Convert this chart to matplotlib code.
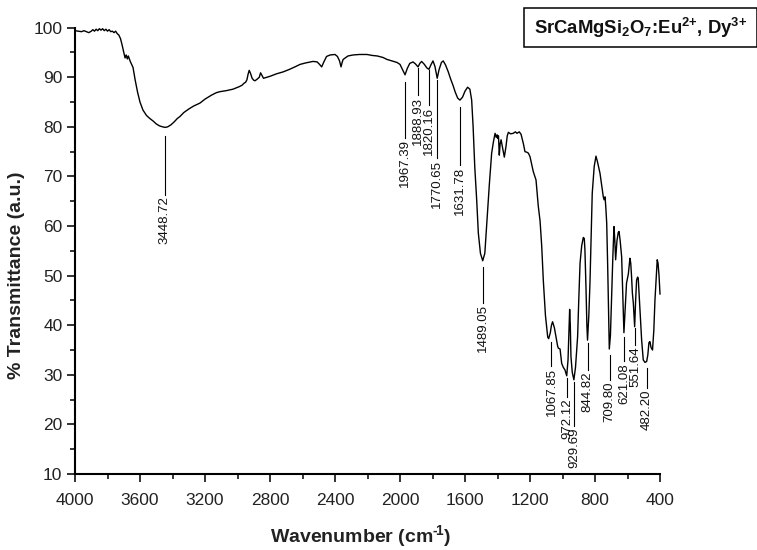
import matplotlib
matplotlib.use("Agg")
import matplotlib.pyplot as plt
from matplotlib.patches import Rectangle
from matplotlib.ticker import MultipleLocator

plt.rcParams['font.family'] = ['Liberation Sans', 'DejaVu Sans']
plt.rcParams['mathtext.fontset'] = 'custom'
plt.rcParams['mathtext.rm'] = 'Liberation Sans'
plt.rcParams['mathtext.bf'] = 'Liberation Sans:bold'

# ---- spectrum (wavenumber cm^-1, % transmittance) ----
wavenumber = [
    4000, 3980, 3960, 3945, 3930, 3915, 3900, 3890, 3880, 3870, 3860, 3850, 3840,
    3830, 3820, 3810, 3800, 3790, 3780, 3770, 3760, 3750, 3740, 3730, 3720, 3710,
    3700, 3692, 3685, 3678, 3672, 3660, 3643, 3630, 3615, 3600, 3582, 3560, 3540,
    3520, 3500, 3480, 3460, 3446, 3430, 3410, 3390, 3370, 3354, 3330, 3300, 3270,
    3231, 3200, 3160, 3130, 3108, 3070, 3028, 2990, 2972, 2960, 2950, 2942, 2935,
    2928, 2920, 2910, 2900, 2892, 2880, 2866, 2858, 2850, 2840, 2800, 2760, 2718,
    2680, 2640, 2615, 2580, 2535, 2510, 2495, 2482, 2470, 2452, 2430, 2400, 2385,
    2372, 2363, 2356, 2350, 2320, 2289, 2250, 2203, 2170, 2140, 2105, 2080, 2050,
    2019, 2000, 1985, 1969, 1955, 1940, 1920, 1905, 1889, 1878, 1867, 1850, 1835,
    1822, 1810, 1797, 1785, 1771, 1760, 1745, 1734, 1720, 1703, 1690, 1674, 1660,
    1645, 1631, 1615, 1600, 1584, 1570, 1559, 1550, 1540, 1528, 1518, 1505, 1491,
    1478, 1463, 1450, 1436, 1425, 1415, 1408, 1402, 1399, 1394, 1389, 1384, 1378,
    1370, 1358, 1348, 1340, 1333, 1320, 1303, 1290, 1280, 1266, 1255, 1240, 1231,
    1220, 1210, 1200, 1180, 1163, 1149, 1138, 1128, 1118, 1105, 1091, 1085, 1075,
    1068, 1061, 1050, 1040, 1030, 1026, 1015, 1005, 995, 985, 974, 966, 960, 956,
    952, 948, 940, 930, 920, 907, 900, 892, 882, 872, 866, 862, 855, 850, 846, 838,
    831, 824, 817, 805, 794, 785, 769, 760, 749, 744, 738, 733, 728, 722, 716, 712,
    705, 697, 690, 683, 678, 673, 665, 657, 652, 645, 636, 630, 624, 622, 615, 606,
    600, 595, 585, 580, 575, 570, 564, 556, 550, 544, 538, 534, 528, 523, 513, 503,
    492, 482, 475, 468, 462, 455, 446, 438, 431, 424, 417, 412, 406, 400,
]
transmittance = [
    99.4, 99.3, 99.2, 99.4, 99.2, 99.0, 99.3, 99.6, 99.3, 99.7, 99.4, 99.8, 99.5,
    99.8, 99.4, 99.7, 99.3, 99.6, 99.2, 99.3, 99.0, 99.3, 98.8, 98.5, 97.8, 96.5,
    95.0, 93.9, 94.5, 93.7, 94.3, 93.2, 92.0, 89.5, 87.0, 85.0, 83.4, 82.3, 81.7,
    81.2, 80.6, 80.2, 80.0, 79.9, 80.0, 80.4, 81.0, 81.7, 82.1, 82.9, 83.6, 84.2,
    84.8, 85.6, 86.4, 86.9, 87.1, 87.3, 87.6, 88.1, 88.4, 88.8, 89.0, 89.5, 90.6,
    91.4, 90.8, 89.8, 89.4, 89.3, 89.6, 90.0, 90.9, 90.4, 89.8, 90.2, 90.7, 91.1,
    91.6, 92.2, 92.6, 92.9, 93.2, 93.1, 92.6, 92.1, 93.0, 94.2, 94.5, 94.6, 94.2,
    93.3, 92.1, 93.0, 93.6, 94.3, 94.5, 94.6, 94.6, 94.4, 94.3, 94.0, 93.6, 93.3,
    93.0, 92.6, 91.6, 90.5, 91.8, 92.8, 93.1, 92.7, 92.1, 92.8, 93.2, 92.6, 91.9,
    91.6, 92.5, 93.3, 92.2, 89.8, 91.5, 93.0, 93.3, 92.5, 91.1, 89.8, 88.4, 87.0,
    85.8, 85.4, 86.0, 87.2, 88.0, 87.6, 85.4, 80.0, 72.0, 65.2, 58.6, 54.5, 53.0,
    54.5, 61.9, 68.5, 74.7, 77.0, 78.7, 77.9, 78.4, 77.7, 78.2, 74.3, 76.5, 77.4,
    76.0, 73.9, 76.0, 78.2, 78.9, 78.6, 78.7, 79.0, 78.7, 79.0, 78.5, 76.5, 75.0,
    74.9, 74.7, 74.0, 71.0, 69.3, 64.0, 61.0, 56.0, 49.0, 42.0, 37.6, 37.3, 38.5,
    40.0, 40.7, 39.5, 37.7, 35.8, 35.4, 35.2, 32.3, 31.5, 31.0, 29.8, 33.0, 39.0, 43.2,
    40.0, 33.7, 30.5, 29.0, 31.5, 37.7, 45.0, 52.5, 56.0, 57.7, 57.5, 55.2, 47.0, 40.0, 37.0, 42.0,
    48.5, 58.0, 66.6, 72.0, 74.1, 73.0, 70.6, 68.5, 65.9, 65.3, 65.9, 63.5, 60.6, 52.0, 42.0, 35.2,
    38.0, 46.5, 54.0, 59.9, 57.0, 53.2, 57.0, 58.7, 58.9, 57.0, 53.8, 47.0, 39.5, 38.5, 43.0, 48.5,
    49.5, 50.3, 53.5, 52.5, 49.8, 46.5, 44.4, 39.7, 45.0, 49.1, 49.7, 49.5, 46.0, 43.1, 37.0, 33.0,
    32.5, 32.7, 34.0, 36.5, 36.7, 35.5, 35.0, 39.0, 45.1, 49.0, 53.2, 52.5, 50.0, 46.3,
]

# ---- peak labels ----
peak_labels = ['3448.72', '1967.39', '1888.93', '1820.16', '1770.65', '1631.78',
               '1489.05', '1067.85', '972.12', '929.69', '844.82', '709.80',
               '621.08', '551.64', '482.20']
peak_positions = [3448.72, 1967.39, 1888.93, 1820.16, 1770.65, 1631.78,
                  1489.05, 1067.85, 972.12, 929.69, 844.82, 709.80,
                  621.08, 551.64, 482.20]
# leader line top / bottom (in % T)
leader_top = [78.2, 89.1, 91.9, 91.5, 89.5, 84.0, 51.8, 36.7, 29.4, 28.6,
              36.4, 34.0, 37.7, 39.5, 31.4]
leader_bottom = [66.3, 77.8, 86.4, 84.4, 73.7, 72.3, 44.5, 31.7, 25.6, 19.6,
                 31.0, 28.9, 32.7, 36.0, 27.4]

x_ticks = [4000, 3600, 3200, 2800, 2400, 2000, 1600, 1200, 800, 400]
y_ticks = [10, 20, 30, 40, 50, 60, 70, 80, 90, 100]

W, H = 757, 550
fig = plt.figure(figsize=(W / 100, H / 100), dpi=100)
ax = fig.add_axes([75 / W, 1 - 474 / H, (660 - 75) / W, (474 - 27.7) / H])

ax.plot(wavenumber, transmittance, color='black', lw=1.0, clip_on=False)

for xp, lab, yt, yb in zip(peak_positions, peak_labels, leader_top, leader_bottom):
    ax.plot([xp, xp], [yb, yt], color='black', lw=0.8)
    ax.text(xp, yb - 0.3, lab, rotation=90, ha='center', va='top',
            fontsize=9.5, color='#111111')

ax.set_xlim(4000, 400)
ax.set_ylim(10, 100)
ax.set_xticks(x_ticks)
ax.set_yticks(y_ticks)
ax.xaxis.set_minor_locator(MultipleLocator(200))
ax.yaxis.set_minor_locator(MultipleLocator(5))
for s in ['top', 'right']:
    ax.spines[s].set_visible(False)
for s in ['left', 'bottom']:
    ax.spines[s].set_linewidth(1.5)
ax.tick_params(which='major', direction='out', length=6, width=1.3,
               labelsize=12.5, colors='#222222')
ax.tick_params(which='minor', direction='out', length=3.5, width=1.1)
ax.tick_params(axis='x', which='major', pad=8)
ax.tick_params(axis='y', which='major', pad=3)

ax.set_xlabel('Wavenumber (cm$^{\\mathbf{\u2010}\\!\\mathbf{1}}$)', fontsize=14,
              fontweight='bold', color='#222222')
ax.xaxis.set_label_coords((360 - 75) / (660 - 75), (474 - 543) / (474 - 27.7),
                          transform=ax.transAxes)
ax.xaxis.label.set_va('baseline')
ax.set_ylabel('% Transmittance (a.u.)', fontsize=14, fontweight='bold',
              color='#222222')
ax.yaxis.set_label_coords(17 / W, 0.5, transform=fig.transFigure)
ax.yaxis.label.set_va('center')

# legend box
fig.patches.append(Rectangle((524 / W, 1 - 47 / H), (756.5 - 524) / W, 39 / H,
                             transform=fig.transFigure, fill=False,
                             edgecolor='black', lw=1.1))
fig.text((524 + 756.5) / 2 / W, 1 - 28 / H,
         r'SrCaMgSi$_\mathbf{2}$O$_\mathbf{7}$:Eu$^{\mathbf{2}\mathbf{+}}$, Dy$^{\mathbf{3}\mathbf{+}}$',
         ha='center', va='center', fontsize=13.3, fontweight='bold', color='#111111')

fig.savefig('out.png', dpi=100)
